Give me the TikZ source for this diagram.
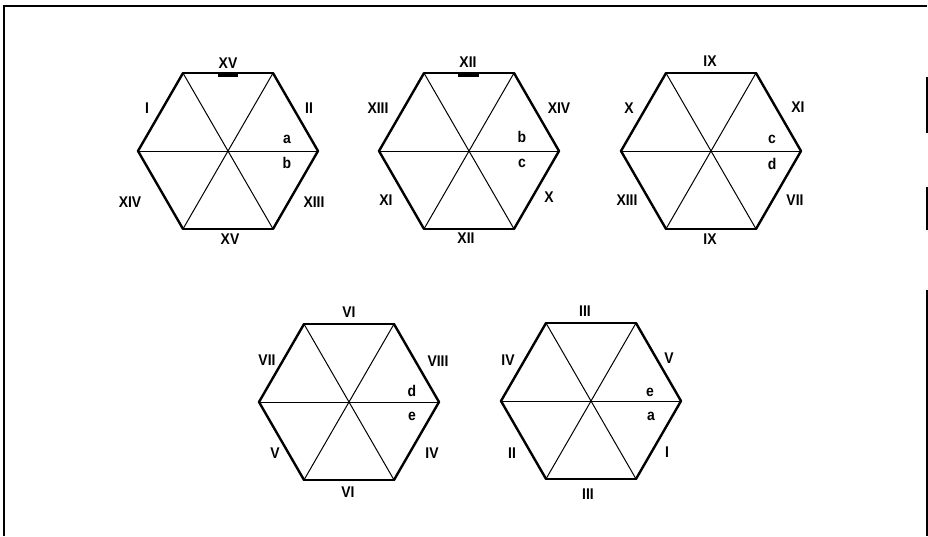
\documentclass[tikz,border=0pt]{standalone}
\usepackage{fontspec}
\setmainfont{Liberation Sans}[FakeStretch=0.9]
\newcommand\hexfig[5]{% name, cx, cy, top style, bottom style
  \coordinate (#1c) at (#2,#3);
  \foreach \a/\n in {0/r,60/ur,120/ul,180/l,240/ll,300/lr}
    \coordinate (#1\n) at ([shift={(\a:90)}]#1c);
  \draw[spoke] (#1l) -- (#1r);
  \draw[spoke] (#1ul) -- (#1lr);
  \draw[spoke] (#1ur) -- (#1ll);
  \draw[side] (#1ul) -- (#1l) -- (#1ll);
  \draw[side] (#1ur) -- (#1r) -- (#1lr);
  \draw[#4] (#1ul) -- (#1ur);
  \draw[#5] (#1ll) -- (#1lr);
}
\begin{document}
\begin{tikzpicture}[x=1pt,y=-1pt,
  lab/.style={font=\fontsize{15.5}{15.5}\selectfont\bfseries, inner sep=0pt},
  side/.style={line width=2.4pt, line join=round, line cap=round},
  thinside/.style={line width=1.4pt, line cap=round},
  midside/.style={line width=1.9pt, line cap=round},
  spoke/.style={line width=1pt},
  bar/.style={line width=2.8pt},
  frame/.style={line width=1.6pt}]
\useasboundingbox (0,0) rectangle (928,536);
% frame
\coordinate (fbl) at (4,536);
\coordinate (ftl) at (4,6);
\coordinate (ftr) at (927,6);
\draw[frame] (fbl) -- (ftl) -- (ftr);
\coordinate (fr1) at (927,77);  \coordinate (fr2) at (927,133);
\coordinate (fr3) at (927,187); \coordinate (fr4) at (927,230);
\coordinate (fr5) at (927,290); \coordinate (fr6) at (927,536);
\draw[frame] (fr1) -- (fr2);
\draw[frame] (fr3) -- (fr4);
\draw[frame] (fr5) -- (fr6);
% hexagons
\hexfig{A}{228}{151}{thinside}{midside}
\hexfig{B}{469}{151}{thinside}{midside}
\hexfig{C}{711}{151}{side}{side}
\hexfig{D}{349}{402}{side}{side}
\hexfig{E}{591}{401}{side}{side}
% bars on top edges
\coordinate (Ab1) at (218,75.5); \coordinate (Ab2) at (238,75.5);
\draw[bar] (Ab1) -- (Ab2);
\coordinate (Bb1) at (458,75.5); \coordinate (Bb2) at (479,75.5);
\draw[bar] (Bb1) -- (Bb2);
% labels hexagon A
\node[lab] (At) at (228,63) {XV};
\node[lab] (Aul) at (147,108) {I};
\node[lab] (Aur) at (309,108) {II};
\node[lab] (Aa) at (287,139) {a};
\node[lab] (Ab) at (287,163) {b};
\node[lab] (All) at (130,202) {XIV};
\node[lab] (Alr) at (314,202) {XIII};
\node[lab] (Abot) at (230,239) {XV};
% labels hexagon B
\node[lab] (Bt) at (468,62) {XII};
\node[lab] (Bul) at (378,108) {XIII};
\node[lab] (Bur) at (559,108) {XIV};
\node[lab] (Bb) at (522,137) {b};
\node[lab] (Bc) at (522,163) {c};
\node[lab] (Bll) at (386,200) {XI};
\node[lab] (Blr) at (549,197) {X};
\node[lab] (Bbot) at (466,238) {XII};
% labels hexagon C
\node[lab] (Ct) at (710,61) {IX};
\node[lab] (Cul) at (629,108) {X};
\node[lab] (Cur) at (798,107) {XI};
\node[lab] (Cc) at (772,139) {c};
\node[lab] (Cd) at (772,164) {d};
\node[lab] (Cll) at (627,200) {XIII};
\node[lab] (Clr) at (795,200) {VII};
\node[lab] (Cbot) at (710,239) {IX};
% labels hexagon D
\node[lab] (Dt) at (349,312) {VI};
\node[lab] (Dul) at (267,360) {VII};
\node[lab] (Dur) at (438,361) {VIII};
\node[lab] (Dd) at (412,391) {d};
\node[lab] (De) at (412,416) {e};
\node[lab] (Dll) at (275,453) {V};
\node[lab] (Dlr) at (432,453) {IV};
\node[lab] (Dbot) at (348,492) {VI};
% labels hexagon E
\node[lab] (Et) at (585,311) {III};
\node[lab] (Eul) at (508,360) {IV};
\node[lab] (Eur) at (669,358) {V};
\node[lab] (Ee) at (650,392) {e};
\node[lab] (Ea) at (651,416) {a};
\node[lab] (Ell) at (512,453) {II};
\node[lab] (Elr) at (667,452) {I};
\node[lab] (Ebot) at (588,494) {III};
\end{tikzpicture}
\end{document}
